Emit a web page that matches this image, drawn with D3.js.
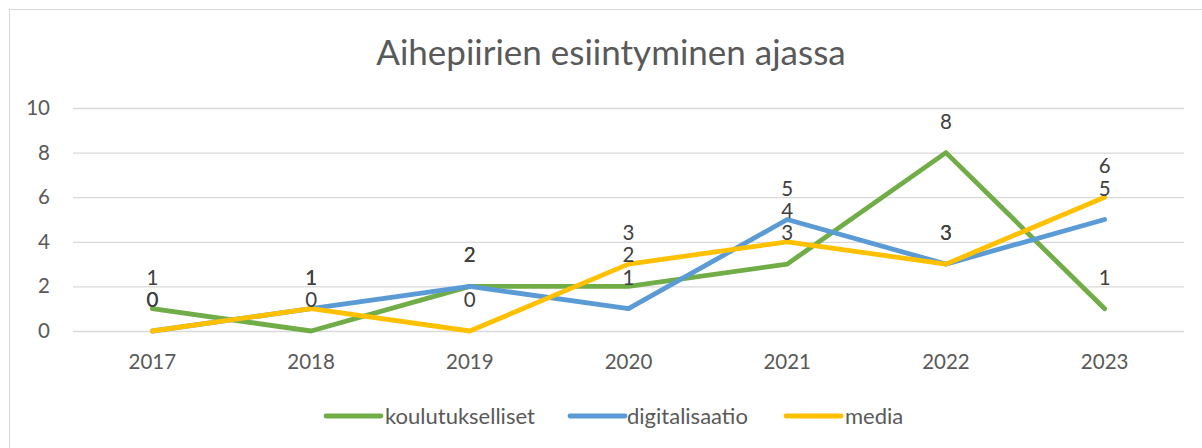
<!DOCTYPE html>
<html>
<head>
<meta charset="utf-8">
<script src="https://cdn.jsdelivr.net/npm/d3@7"></script>
<style>
  html, body { margin: 0; padding: 0; background: #fff; }
  svg { display: block; font-family: Lato, "Open Sans", sans-serif; }
</style>
</head>
<body>
<svg id="chart" width="1202" height="448"></svg>
<script>
const title = "Aihepiirien esiintyminen ajassa";
const years = ["2017", "2018", "2019", "2020", "2021", "2022", "2023"];
const seriesNames = ["koulutukselliset", "digitalisaatio", "media"];
const koulutukselliset = [1, 0, 2, 2, 3, 8, 1];
const digitalisaatio = [0, 1, 2, 1, 5, 3, 5];
const media = [0, 1, 0, 3, 4, 3, 6];
const yTicks = [0, 2, 4, 6, 8, 10];
const colors = ["#70AD47", "#5B9BD5", "#FFC000"];

const series = [koulutukselliset, digitalisaatio, media].map((vals, i) => ({
  name: seriesNames[i], values: vals, color: colors[i]
}));

const svg = d3.select("#chart");
const W = 1202, H = 448;
const margin = { left: 73, right: 18, top: 108, bottom: 117 };

// chart border
svg.append("rect")
  .attr("x", 9.5).attr("y", 9.5)
  .attr("width", W).attr("height", H)
  .attr("fill", "none").attr("stroke", "#D9D9D9").attr("stroke-width", 1);

const x = d3.scaleBand().domain(years).range([margin.left, W - margin.right]);
const y = d3.scaleLinear().domain([0, 10]).range([H - margin.bottom, margin.top]);
const cx = d => x(d) + x.bandwidth() / 2;

// gridlines
const yAxis = d3.axisLeft(y).tickValues(yTicks).tickSize(-(W - margin.right - margin.left)).tickPadding(23);
const gy = svg.append("g").attr("transform", `translate(${margin.left},0)`).call(yAxis);
gy.select(".domain").remove();
gy.selectAll(".tick line").attr("stroke", "#D9D9D9").attr("stroke-width", 1.3);
gy.selectAll(".tick text").attr("fill", "#595959").attr("font-size", 20.5)
  .attr("font-family", "Lato, sans-serif");

// x axis labels
const xAxis = d3.axisBottom(x).tickSize(0).tickPadding(23);
const gx = svg.append("g").attr("transform", `translate(0,${y(0)})`).call(xAxis);
gx.select(".domain").remove();
gx.selectAll(".tick text").attr("fill", "#595959").attr("font-size", 20.5)
  .attr("font-family", "Lato, sans-serif");

// lines
const line = d3.line().x((d, i) => cx(years[i])).y(d => y(d));
svg.append("g").selectAll("path").data(series).join("path")
  .attr("d", s => line(s.values))
  .attr("fill", "none")
  .attr("stroke", s => s.color)
  .attr("stroke-width", 4.8)
  .attr("stroke-linejoin", "round")
  .attr("stroke-linecap", "round");

// data labels
series.forEach(s => {
  svg.append("g").selectAll("text").data(s.values).join("text")
    .attr("x", (d, i) => cx(years[i]))
    .attr("y", d => y(d) - 24)
    .attr("text-anchor", "middle")
    .attr("fill", "#404040")
    .attr("font-size", 20.5)
    .text(d => d);
});

// title
svg.append("text")
  .attr("x", 611).attr("y", 65)
  .attr("text-anchor", "middle")
  .attr("fill", "#595959")
  .attr("font-size", 35)
  .text(title);

// legend
const legendItems = [
  { x: 326, tx: 385 },
  { x: 570, tx: 627 },
  { x: 786, tx: 845 }
];
const lg = svg.append("g");
series.forEach((s, i) => {
  lg.append("line")
    .attr("x1", legendItems[i].x).attr("x2", legendItems[i].x + 55)
    .attr("y1", 416).attr("y2", 416)
    .attr("stroke", s.color).attr("stroke-width", 4.8).attr("stroke-linecap", "round");
  lg.append("text")
    .attr("x", legendItems[i].tx).attr("y", 424)
    .attr("fill", "#595959").attr("font-size", 22)
    .text(s.name);
});
</script>
</body>
</html>
